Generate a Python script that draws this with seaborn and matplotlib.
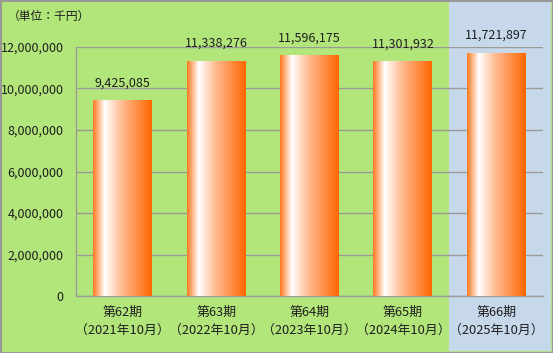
import numpy as np
import pandas as pd
import seaborn as sns
import matplotlib.pyplot as plt
from matplotlib.colors import LinearSegmentedColormap
from matplotlib.patches import Rectangle

periods = ["第62期", "第63期", "第64期", "第65期", "第66期"]
dates = ["（2021年10月）", "（2022年10月）", "（2023年10月）", "（2024年10月）", "（2025年10月）"]
values = [9425085, 11338276, 11596175, 11301932, 11721897]

df = pd.DataFrame({"label": [p + "\n" + d for p, d in zip(periods, dates)], "value": values})

sns.set_style("white")
plt.rcParams["font.family"] = ["Noto Sans CJK JP", "DejaVu Sans"]

green = "#B3E67A"
blue = "#C6D8EA"
grid_c = "#9A9A9A"
txt_c = "#1E1E1E"

fig = plt.figure(figsize=(5.53, 3.53), dpi=100)
fig.patch.set_facecolor(green)
# blue panel behind the latest period
fig.add_artist(Rectangle((449 / 553, 2 / 353), 102 / 553, 349 / 353, transform=fig.transFigure,
                         facecolor=blue, edgecolor="none", zorder=0))
fig.add_artist(Rectangle((0.5 / 553, 0.5 / 353), 552 / 553, 352 / 353, transform=fig.transFigure,
                         facecolor="none", edgecolor="#999999", linewidth=1.5, zorder=5))

ax = fig.add_axes([76 / 553, 1 - 296 / 353, 467 / 553, 249 / 353])
ax.set_facecolor("none")

sns.barplot(data=df, x="label", y="value", width=0.63, ax=ax, color="#FF7A20", zorder=3)

cmap = LinearSegmentedColormap.from_list("bar", [
    (0.0, (1.0, 0.47, 0.12)),
    (0.2, (1.0, 1.0, 1.0)),
    (0.5, (1.0, 0.72, 0.55)),
    (1.0, (1.0, 0.40, 0.0)),
])
grad = np.linspace(0, 1, 256).reshape(1, -1)
for patch, v in zip(ax.patches, values):
    x0, y0 = patch.get_x(), patch.get_y()
    w, h = patch.get_width(), patch.get_height()
    im = ax.imshow(grad, cmap=cmap, aspect="auto", extent=[x0, x0 + w, y0, y0 + h], zorder=3)
    im.set_clip_path(patch)
    patch.set_facecolor("none")
    patch.set_edgecolor("none")
    ax.text(x0 + w / 2, y0 + h + 520000, f"{v:,}", ha="center", va="bottom",
            fontsize=9, color=txt_c, clip_on=False)

ax.set_xlim(-0.5, 4.5)
ax.set_ylim(0, 12000000)
ax.set_yticks(np.arange(0, 12000001, 2000000))
ax.yaxis.set_major_formatter(plt.FuncFormatter(lambda v, p: f"{int(v):,}"))
ax.grid(axis="y", color=grid_c, linewidth=1, zorder=1)
ax.set_axisbelow(True)
ax.set_xlabel("")
ax.set_ylabel("")

for s in ["top", "right"]:
    ax.spines[s].set_visible(False)
for s in ["left", "bottom"]:
    ax.spines[s].set_color(grid_c)
    ax.spines[s].set_linewidth(1)

ax.set_xticks(np.arange(-0.5, 5, 1), minor=True)
ax.tick_params(axis="x", which="major", length=0, labelsize=9.3, colors=txt_c, pad=7)
ax.tick_params(axis="x", which="minor", length=4, color=grid_c, width=1)
ax.tick_params(axis="y", length=4, color=grid_c, width=1, labelsize=9, labelcolor=txt_c, pad=5)
for t in ax.get_xticklabels():
    t.set_linespacing(1.55)

fig.text(8 / 553, 1 - 16 / 353, "（単位：千円）", fontsize=8.5, color=txt_c, va="center", ha="left")

fig.savefig("out.png", dpi=100, facecolor=fig.get_facecolor())
